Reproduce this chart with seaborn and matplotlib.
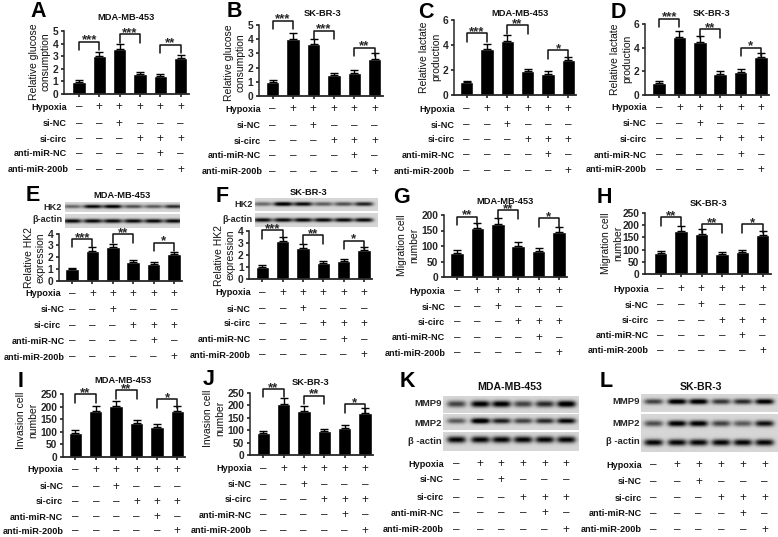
import numpy as np
import pandas as pd
import matplotlib
matplotlib.use('Agg')
import matplotlib.pyplot as plt
from matplotlib.transforms import Affine2D
import seaborn as sns

W, H = 778, 537

groups = ['g1', 'g2', 'g3', 'g4', 'g5', 'g6']
row_names = ['Hypoxia', 'si-NC', 'si-circ', 'anti-miR-NC', 'anti-miR-200b']
row_signs = [
    ['–', '+', '+', '+', '+', '+'],
    ['–', '–', '+', '–', '–', '–'],
    ['–', '–', '–', '+', '+', '+'],
    ['–', '–', '–', '–', '+', '–'],
    ['–', '–', '–', '–', '–', '+'],
]

# valores
a_vals = [0.95, 3.0, 3.55, 1.55, 1.4, 2.85]
a_errs = [0.14, 0.35, 0.4, 0.17, 0.18, 0.27]
b_vals = [1.0, 4.0, 3.65, 1.5, 1.6, 2.6]
b_errs = [0.15, 0.42, 0.37, 0.15, 0.2, 0.4]
c_vals = [1.05, 3.7, 4.35, 1.9, 1.72, 2.8]
c_errs = [0.1, 0.38, 0.45, 0.2, 0.21, 0.28]
d_vals = [1.0, 4.9, 4.45, 1.8, 1.95, 3.2]
d_errs = [0.15, 0.5, 0.5, 0.2, 0.23, 0.35]
e_vals = [1.0, 2.55, 2.85, 1.63, 1.4, 2.25]
e_errs = [0.12, 0.3, 0.3, 0.17, 0.17, 0.22]
f_vals = [1.0, 3.15, 2.6, 1.35, 1.52, 2.4]
f_errs = [0.15, 0.35, 0.3, 0.15, 0.16, 0.25]
g_vals = [78, 158, 172, 101, 85, 146]
g_errs = [9, 17, 18, 13, 10, 15]
h_vals = [85, 175, 165, 83, 90, 158]
h_errs = [10, 20, 18, 9, 10, 17]
i_vals = [95, 183, 202, 135, 118, 185]
i_errs = [11, 21, 20, 14, 13, 20]
j_vals = [87, 204, 176, 96, 107, 168]
j_errs = [10, 24, 19, 10, 13, 19]

# corchetes: (barra i, barra j, altura, estrellas)
a_sig = [(0, 1, 4.15, '***'), (2, 3, 4.73, '***'), (4, 5, 3.9, '**')]
b_sig = [(0, 1, 5.3, '***'), (2, 3, 4.6, '***'), (4, 5, 3.4, '**')]
c_sig = [(0, 1, 4.93, '***'), (2, 3, 5.57, '**'), (4, 5, 3.6, '*')]
d_sig = [(0, 1, 6.45, '***'), (2, 3, 5.57, '**'), (4, 5, 4.0, '*')]
e_sig = [(0, 1, 3.55, '***'), (2, 3, 3.94, '**'), (4, 5, 3.23, '*')]
f_sig = [(0, 1, 4.05, '***'), (2, 3, 3.64, '**'), (4, 5, 3.17, '*')]
g_sig = [(0, 1, 195, '**'), (2, 3, 216, '**'), (4, 5, 189, '*')]
h_sig = [(0, 1, 231, '**'), (2, 3, 204, '**'), (4, 5, 204, '*')]
i_sig = [(0, 1, 250, '**'), (2, 3, 267, '**'), (4, 5, 230, '*')]
j_sig = [(0, 1, 265, '**'), (2, 3, 237, '**'), (4, 5, 203, '*')]

# intensidad de las bandas de western blot
e_hk2 = [0.45, 0.85, 0.9, 0.55, 0.5, 0.7]
f_hk2 = [0.45, 0.95, 0.85, 0.5, 0.55, 0.75]
actin_band = [0.85, 0.85, 0.85, 0.85, 0.85, 0.85]
k_mmp9 = [0.6, 0.9, 0.9, 0.6, 0.7, 0.95]
k_mmp2 = [0.5, 1.0, 0.75, 0.6, 0.7, 0.85]
l_mmp9 = [0.6, 0.95, 0.95, 0.65, 0.7, 0.9]
l_mmp2 = [0.55, 0.9, 0.9, 0.6, 0.5, 0.8]

sns.set_style('ticks')
plt.rcParams['font.family'] = ['Liberation Sans', 'DejaVu Sans']
plt.rcParams['font.weight'] = 'bold'

fig = plt.figure(figsize=(W / 100, H / 100), dpi=100, facecolor='white')
px = Affine2D().scale(1 / W, -1 / H).translate(0, 1) + fig.transFigure


def ftext(x, y, s, **kw):
    return fig.text(x, y, s, transform=px, **kw)


def sign_table(centers, rows_y, label_right, size=6.6):
    for name, signs, y, r in zip(row_names, row_signs, rows_y, label_right):
        ftext(r, y, name, ha='right', va='center', fontsize=size, color='#111111')
        for cx, s in zip(centers, signs):
            ftext(cx, y, s, ha='center', va='center', fontsize=8.5, color='#222222',
                  fontweight='normal')


def bar_panel(vals, errs, sig, ymax, yticks, left, top, bottom, centers, ylabel, ylabel_xy):
    step = (centers[5] - centers[0]) / 5
    right = centers[5] + 8
    ax = fig.add_axes([left / W, 1 - bottom / H, (right - left) / W, (bottom - top) / H])
    ax.patch.set_alpha(0)
    df = pd.DataFrame({'group': groups, 'value': vals})
    sns.barplot(data=df, x='group', y='value', color='black', saturation=1, width=0.66,
                errorbar=None, ax=ax)
    ax.errorbar(range(6), vals, yerr=[np.zeros(6), errs], fmt='none', ecolor='black',
                elinewidth=1, capsize=2.7, capthick=1)
    ax.set_xlim((left - centers[0]) / step, 5 + (right - centers[5]) / step)
    ax.set_ylim(0, ymax)
    ax.set_yticks(yticks)
    ax.set_xticks(range(6))
    ax.set_xticklabels([])
    ax.set_xlabel('')
    ax.set_ylabel('')
    ax.tick_params(axis='both', width=1.1, length=2.5, labelsize=7.4, pad=1.5, color='#111111')
    sns.despine(ax=ax)
    ax.spines['left'].set_linewidth(1.1)
    ax.spines['bottom'].set_linewidth(1.3)
    leg = ymax * 8.5 / (bottom - top)
    for i, j, h, stars in sig:
        ax.plot([i, i, j, j], [h - leg, h, h, h - leg], color='#111111', lw=1.1, clip_on=False)
        ax.annotate(stars, ((i + j) / 2, h), xytext=(0, -3.4), textcoords='offset points',
                    ha='center', va='bottom', fontsize=9.5, annotation_clip=False)
    ftext(ylabel_xy[0], ylabel_xy[1], ylabel, rotation=90, ha='center', va='center',
          fontsize=7.5, linespacing=1.2, fontweight='normal', color='#111111')
    return ax


def blot(x0, x1, y0, y1, centers, bands, half_h, ypos=0.5, half_w=9.5, bg=0.84):
    nx, ny = int((x1 - x0) * 2), int((y1 - y0) * 2)
    xs = np.linspace(x0, x1, nx)
    ys = np.linspace(y0, y1, ny)
    img = np.full((ny, nx), bg)
    cy = y0 + ypos * (y1 - y0)
    prof_y = np.exp(-((ys - cy) / half_h) ** 2)
    for c, d in zip(centers, bands):
        prof_x = np.exp(-((xs - c) / half_w) ** 4)
        img -= d * np.outer(prof_y, prof_x)
    ax = fig.add_axes([x0 / W, 1 - y1 / H, (x1 - x0) / W, (y1 - y0) / H])
    ax.imshow(np.clip(img, 0, 1), cmap='gray', vmin=0, vmax=1, aspect='auto', interpolation='bilinear')
    ax.axis('off')


def title(x, y, s, size=6.7):
    ftext(x, y, s, ha='center', va='center', fontsize=size, color='#111111')


def letter(x, y, s):
    ftext(x, y, s, ha='left', va='baseline', fontsize=15.5, color='black')


# A
cx = [79, 99.3, 119.3, 140, 160.3, 180.7]
bar_panel(a_vals, a_errs, a_sig, 5, range(6), 64, 31, 94, cx, 'Relative glucose\nconsumption', (40, 62))
sign_table(cx, [107, 124, 139, 154, 170], [67, 67, 67, 67, 68.5])
title(126, 18, 'MDA-MB-453')
letter(30, 17, 'A')

# B
cx = [272.7, 293.3, 313.3, 334, 354.3, 374.7]
bar_panel(b_vals, b_errs, b_sig, 5, range(6), 259, 25, 96, cx, 'Relative glucose\nconsumption', (235, 63))
sign_table(cx, [109, 126, 141, 156, 172], [261, 261, 261, 261, 262.5])
title(322, 14, 'SK-BR-3')
letter(227, 17, 'B')

# C
cx = [466.7, 487, 507.3, 528, 548.3, 568.3]
bar_panel(c_vals, c_errs, c_sig, 6, [0, 2, 4, 6], 453.7, 20, 95, cx, 'Relative lactate\nproduction', (430, 57))
sign_table(cx, [109, 125, 140, 155, 171], [454.7] * 5)
title(519.7, 14, 'MDA-MB-453')
letter(418, 18, 'C')

# D
cx = [659, 679.7, 699.7, 720.3, 740.7, 761]
bar_panel(d_vals, d_errs, d_sig, 6, [0, 2, 4, 6], 644.7, 24, 95, cx, 'Relative lactate\nproduction', (621, 59))
sign_table(cx, [108, 124, 139, 155, 170], [647] * 5)
title(711, 13, 'SK-BR-3')
letter(611, 18, 'D')

# E
cx = [72, 92.7, 112.7, 133.3, 153.7, 174]
blot(65, 180, 201.7, 212.3, cx, e_hk2, 1.9)
blot(65, 180, 213.7, 227.7, cx, actin_band, 2.1)
ftext(61.7, 207, 'HK2', ha='right', va='center', fontsize=6.6)
ftext(62.7, 220, 'β-actin', ha='right', va='center', fontsize=6.6)
bar_panel(e_vals, e_errs, e_sig, 4, range(5), 59, 233.7, 280.7, cx, 'Relative HK2\nexpression', (35, 258))
sign_table(cx, [294, 310, 326, 341, 357], [60.7, 65, 60.7, 65, 65])
title(122, 195.7, 'MDA-MB-453')
letter(26, 201, 'E')

# F
cx = [262.3, 283, 303, 323.3, 343.7, 364]
blot(255, 378, 197.7, 211, cx, f_hk2, 2.0)
blot(255, 378, 212.7, 226.7, cx, actin_band, 2.1)
ftext(253, 204.5, 'HK2', ha='right', va='center', fontsize=6.6)
ftext(253, 219.5, 'β-actin', ha='right', va='center', fontsize=6.6)
bar_panel(f_vals, f_errs, f_sig, 4, range(5), 249.3, 230.7, 279, cx, 'Relative HK2\nexpression', (225, 255))
sign_table(cx, [292.7, 309.3, 324, 339.7, 355], [250.7] * 5)
title(308, 192.3, 'SK-BR-3')
letter(216, 202, 'F')

# G
cx = [457, 477.3, 498, 518.3, 538.7, 559]
bar_panel(g_vals, g_errs, g_sig, 200, range(0, 201, 50), 443.7, 215, 277, cx, 'Migration cell\nnumber', (408, 245))
sign_table(cx, [291, 307.3, 322.3, 337.7, 353.3], [445.3] * 5)
title(504.7, 201.7, 'MDA-MB-453')
letter(393, 203, 'G')

# H
cx = [660.7, 681.3, 701.3, 722, 742.3, 762.7]
bar_panel(h_vals, h_errs, h_sig, 250, range(0, 251, 50), 644.7, 212.7, 274.3, cx, 'Migration cell\nnumber', (612, 243))
sign_table(cx, [289, 305, 320.7, 335.7, 350.7], [649] * 5)
title(708, 203.3, 'SK-BR-3')
letter(597, 203, 'H')

# I
cx = [75.3, 96, 116, 136.7, 157, 177.3]
bar_panel(i_vals, i_errs, i_sig, 250, range(0, 251, 50), 62.7, 394.3, 456.7, cx, 'Invasion cell\nnumber', (27, 420))
sign_table(cx, [470, 486.7, 501.7, 517.3, 531], [63.3] * 5)
title(122.7, 380.7, 'MDA-MB-453')
letter(18, 387, 'I')

# J
cx = [263.3, 283.7, 303.7, 324.3, 344.7, 365]
bar_panel(j_vals, j_errs, j_sig, 250, range(0, 251, 50), 250, 392.7, 455, cx, 'Invasion cell\nnumber', (214, 418))
sign_table(cx, [468.7, 484.7, 500, 515.3, 530.7], [251.7] * 5)
title(310, 382.7, 'SK-BR-3')
letter(203, 385, 'J')

# K
cx = [456.3, 480.3, 501.3, 523, 544.7, 566.3]
blot(443, 578.7, 396, 413.3, cx, k_mmp9, 3.2)
blot(443, 578.7, 414.3, 430, cx, k_mmp2, 2.8, ypos=0.43)
blot(443, 578.7, 431.7, 450.7, cx, actin_band, 3.4, ypos=0.4)
ftext(442, 404, 'MMP9', ha='right', va='center', fontsize=6.8)
ftext(442, 423, 'MMP2', ha='right', va='center', fontsize=6.8)
ftext(442, 441, 'β -actin', ha='right', va='center', fontsize=6.8)
sign_table(cx, [464.3, 480, 497.7, 513.3, 530], [444] * 5)
title(509.7, 386.7, 'MDA-MB-453', size=7.6)
letter(400, 387, 'K')

# L
cx = [653.7, 677.3, 698.7, 721.3, 743, 764.7]
blot(641.3, 778, 394.3, 411.7, cx, l_mmp9, 2.7, ypos=0.42)
blot(641.3, 778, 414.3, 432.7, cx, l_mmp2, 3.0)
blot(641.3, 778, 433.3, 451.7, cx, actin_band, 3.2)
ftext(639.7, 402, 'MMP9', ha='right', va='center', fontsize=6.8)
ftext(639.7, 423, 'MMP2', ha='right', va='center', fontsize=6.8)
ftext(639.7, 442, 'β -actin', ha='right', va='center', fontsize=6.8)
sign_table(cx, [465, 481.7, 498.3, 514, 530], [642] * 5)
title(701.3, 387.3, 'SK-BR-3', size=7.6)
letter(600, 387, 'L')

fig.savefig('out.png', dpi=100)
